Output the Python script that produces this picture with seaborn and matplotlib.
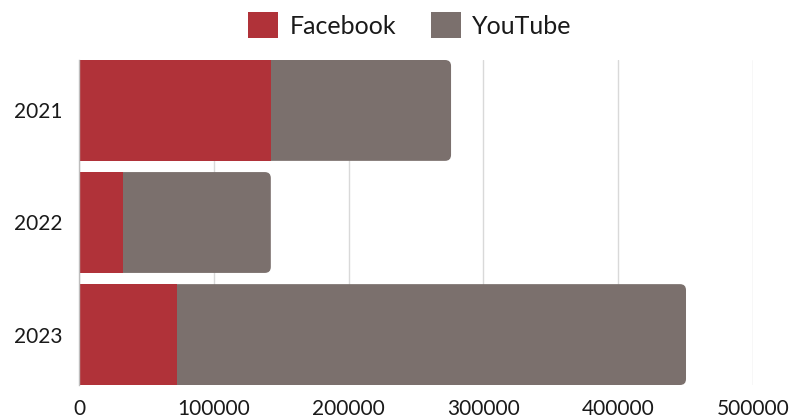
import pandas as pd
import matplotlib
matplotlib.use("Agg")
import matplotlib.pyplot as plt
from matplotlib.patches import FancyBboxPatch, Patch
import seaborn as sns

# ===================== data =====================
years = ["2021", "2022", "2023"]
facebook = [142500, 32800, 72800]
youtube = [133500, 109500, 377500]
series_names = ["Facebook", "YouTube"]
x_ticks = [0, 100000, 200000, 300000, 400000, 500000]

RED = "#b03239"
GRAY = "#7b706d"

df = pd.DataFrame({"year": years, "Facebook": facebook, "YouTube": youtube})
df["total"] = df["Facebook"] + df["YouTube"]

sns.set_style("white")
plt.rcParams["font.family"] = ["Lato", "DejaVu Sans"]

fig = plt.figure(figsize=(7.96, 4.2), dpi=100)
ax = fig.add_axes([79 / 796, 35 / 420, 674 / 796, 325 / 420])

# total bar first (YouTube colour), Facebook on top of it
sns.barplot(data=df, x="total", y="year", orient="h", color=GRAY,
            saturation=1, width=0.9, errorbar=None, ax=ax, zorder=2,
            linewidth=0, edgecolor="none")
n_total = len(ax.patches)
sns.barplot(data=df, x="Facebook", y="year", orient="h", color=RED,
            saturation=1, width=0.9, errorbar=None, ax=ax, zorder=3,
            linewidth=0, edgecolor="none")

ax.set_xlim(0, 500000)
ax.set_ylim(2.45, -0.45)
ax.set_xticks(x_ticks)
ax.set_xticklabels([str(t) for t in x_ticks])
ax.set_xlabel("")
ax.set_ylabel("")

# round the right end of the stacked bars
fig.canvas.draw()
bbox = ax.get_window_extent()
x_per_px = 500000 / bbox.width
y_per_px = 2.9 / bbox.height
radius_px = 6
for p in list(ax.patches[:n_total]):
    x, y = p.get_x(), p.get_y()
    w, h = p.get_width(), p.get_height()
    p.remove()
    rb = FancyBboxPatch((x, y), w, h,
                        boxstyle=f"round,pad=0,rounding_size={radius_px * x_per_px}",
                        mutation_aspect=y_per_px / x_per_px,
                        facecolor=GRAY, edgecolor="none", linewidth=0, zorder=2)
    ax.add_patch(rb)

ax.grid(axis="x", color="#d9d9d9", linewidth=1, zorder=0)
ax.grid(axis="y", visible=False)
ax.set_axisbelow(True)
for s in ["top", "right", "bottom"]:
    ax.spines[s].set_visible(False)
ax.spines["left"].set_color("#bdbdbd")
ax.spines["left"].set_linewidth(1)
ax.spines["left"].set_zorder(4)
ax.tick_params(axis="both", length=0, labelsize=15, colors="#1a1a1a")
ax.tick_params(axis="x", pad=10)
ax.tick_params(axis="y", pad=12)

handles = [Patch(facecolor=RED, edgecolor="none"), Patch(facecolor=GRAY, edgecolor="none")]
fig.legend(handles, series_names, loc="center", bbox_to_anchor=(0.515, 0.94),
           ncol=2, frameon=False, fontsize=18, handlelength=1.2, handleheight=1.2,
           handletextpad=0.45, columnspacing=1.4, labelcolor="#1a1a1a")

fig.savefig("out.png", dpi=100)
plt.close(fig)
